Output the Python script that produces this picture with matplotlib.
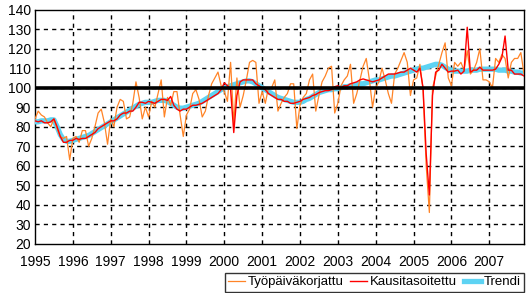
import numpy as np
import matplotlib
matplotlib.use('Agg')
import matplotlib.pyplot as plt

plt.rcParams['font.family'] = ['Liberation Sans', 'DejaVu Sans']

years = list(range(1995, 2008))

# kuukausittaiset arvot 1/1995 - 12/2007
tyopaiva = [
    84, 88, 86, 85, 82, 80, 84, 79, 75, 74, 75, 63,
    74, 75, 72, 78, 78, 70, 74, 80, 87, 89, 82, 71,
    84, 80, 90, 94, 93, 84, 85, 92, 103, 95, 84, 90,
    85, 93, 90, 97, 104, 85, 95, 91, 98, 98, 86, 75,
    86, 89, 97, 99, 94, 85, 88, 96, 102, 105, 108, 101,
    98, 93, 113, 82, 105, 90, 96, 104, 113, 114, 113, 92,
    98, 92, 100, 100, 104, 88, 92, 95, 97, 102, 102, 79,
    91, 95, 97, 104, 107, 88, 96, 103, 106, 110, 111, 87,
    92, 101, 104, 106, 112, 92, 97, 104, 111, 115, 104, 90,
    100, 103, 110, 104, 97, 92, 107, 110, 114, 118, 113, 96,
    104, 105, 112, 99, 60, 36, 100, 106, 112, 118, 123, 105,
    101, 113, 111, 113, 109, 119, 107, 109, 113, 120, 104, 104,
    103, 100, 115, 113, 117, 115, 105, 113, 115, 115, 118, 107,
]

kausi = [
    83, 82.5, 83, 82, 82, 82.5, 84, 80, 75, 72, 72, 73,
    73, 74, 73.5, 74, 74, 75, 76, 77, 79, 80, 81, 82,
    83, 83, 84, 86, 87, 87, 88, 88, 90, 92.5, 92.5, 92,
    93, 92.5, 92, 93, 94, 94, 93.5, 95.5, 91, 89, 88, 89,
    89, 90, 91, 91, 91.5, 92, 93, 94, 95, 96, 97, 99,
    102.5, 101, 99, 77, 96, 103, 104, 104, 104, 104, 102, 101,
    100, 99, 97, 96, 95, 94, 94, 93, 93, 92, 92, 92.5,
    93, 94, 94.5, 95, 96, 96.5, 97.5, 98, 98.5, 98.5, 99, 100.5,
    101, 100, 101, 101, 102, 102.5, 103, 104, 104.5, 104, 103.5, 103,
    103.5, 104, 105, 106, 107, 107, 107, 107.5, 108, 108, 109, 110,
    109, 108, 110, 100, 66, 45, 96, 108, 109, 112, 110, 108,
    108.5, 108.5, 109, 107, 108.5, 131, 108, 109, 109, 110.5, 109, 109,
    109, 109, 109.5, 112, 115.5, 126.5, 109, 109, 107, 107, 107, 106,
]

trendi = [
    82.5, 82.5, 83, 83, 83, 83.5, 83.5, 80, 76, 73.5, 72.5, 72.5,
    73, 73.5, 74, 74.5, 75, 75.5, 76.5, 77.5, 78.5, 79.5, 80.5, 81.5,
    82.5, 83.5, 84.5, 85.5, 86.5, 87.5, 88.5, 89.5, 90.5, 91.5, 92, 92.5,
    92.5, 92.5, 93, 93.5, 93.5, 93.5, 93, 92, 91, 90, 89.5, 89.5,
    90, 90.5, 91, 91.5, 92, 93, 94, 95, 96, 97, 98, 99,
    100, 100.5, 101, 101.5, 102, 102.5, 103, 103.5, 103.5, 103, 102, 101,
    100, 99, 98, 97, 96, 95, 94.5, 94, 93.5, 93, 92.5, 92.5,
    92.5, 93, 94, 94.5, 95.5, 96.5, 97.5, 98, 98.5, 99, 99, 99.5,
    99.5, 100, 100.5, 100.5, 101, 101, 101.5, 102, 102, 102.5, 103, 103.5,
    104, 104, 104.5, 105, 105.5, 106, 106, 106.5, 107, 107.5, 108, 108.5,
    109, 109.5, 110, 110, 110.5, 111, 111.5, 112, 112, 111.5, 110.5, 109.5,
    109, 108.5, 108.5, 108.5, 108.5, 108.5, 109, 109, 109, 109.5, 109.5, 109.5,
    109.5, 109.5, 109.5, 109, 109, 109, 108.5, 108.5, 108, 108, 107.5, 107.5,
]

x = years[0] + np.arange(len(trendi)) / 12.0

fig = plt.figure(figsize=(5.27, 2.93), dpi=100)
ax = fig.add_axes([35/527, 1 - 243.7/293, 489/527, 234/293])

ax.plot(x, trendi, color='#5dd3f3', lw=3.8, label='Trendi', zorder=3)
ax.plot(x, tyopaiva, color='#ff8427', lw=0.9, label='Työpäiväkorjattu', zorder=4)
ax.plot(x, kausi, color='#ff0000', lw=1.0, label='Kausitasoitettu', zorder=5)

ax.axhline(100, color='black', lw=2.6, zorder=6)

ax.set_xlim(years[0], years[-1] + 11/12)
ax.set_ylim(20, 140)
ax.set_yticks(range(20, 141, 10))
ax.set_xticks(years)
ax.set_xticklabels([str(y) for y in years])

for yv in range(30, 140, 10):
    ax.axhline(yv, color='black', lw=1.0, ls=(0, (3, 3)), zorder=1)
for xv in years[1:]:
    ax.axvline(xv, color='black', lw=1.0, ls=(0, (3, 3)), zorder=1)

for s in ax.spines.values():
    s.set_color('black')
    s.set_linewidth(1)
ax.tick_params(length=0, labelsize=10, colors='black')
ax.tick_params(axis='x', pad=8)
ax.tick_params(axis='y', pad=3)

h, l = ax.get_legend_handles_labels()
order = [1, 2, 0]
leg = fig.legend([h[i] for i in order], [l[i] for i in order],
                 loc='lower right', bbox_to_anchor=(525/527, 0.0),
                 ncol=3, frameon=True, fancybox=False, edgecolor='black',
                 fontsize=9.5, handlelength=1.3, handletextpad=0.2,
                 columnspacing=0.5, borderpad=0.25, borderaxespad=0.1)
leg.get_frame().set_linewidth(1)

fig.savefig('out.png', dpi=100)
